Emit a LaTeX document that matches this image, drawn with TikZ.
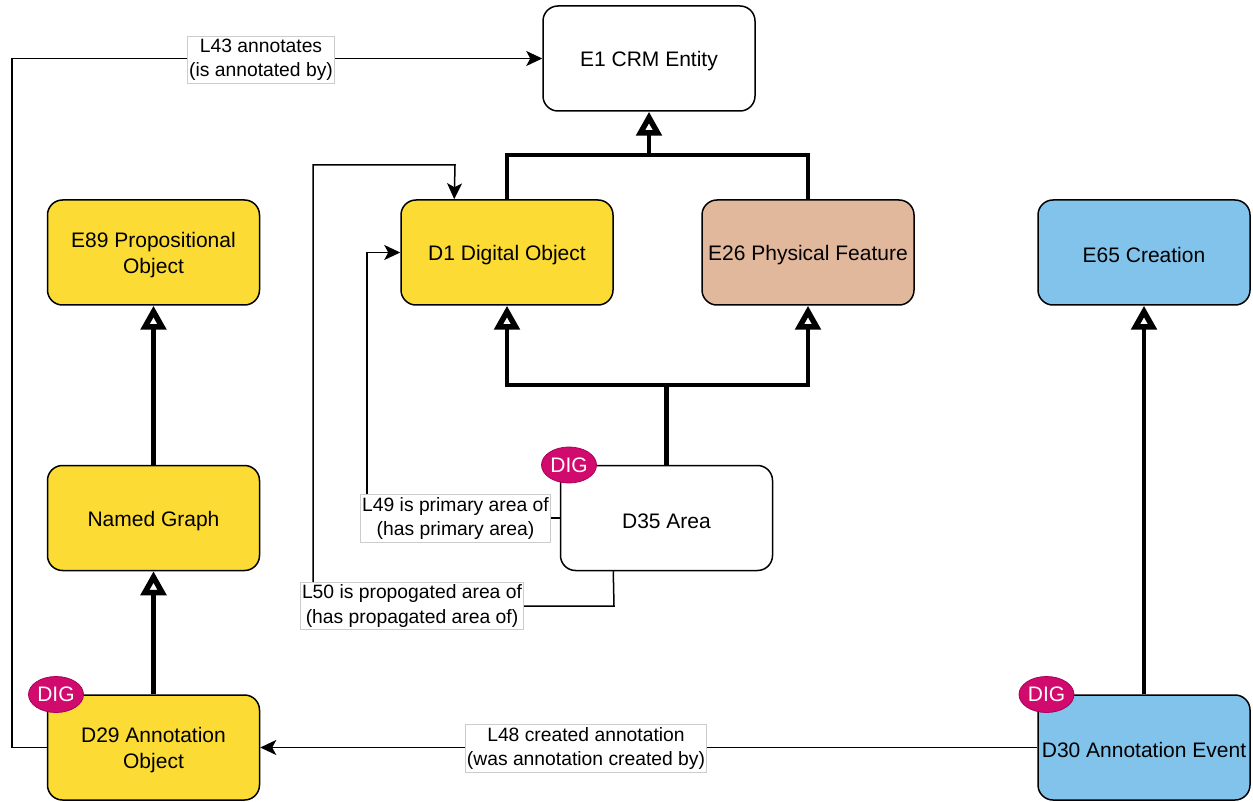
\documentclass[tikz,border=0pt]{standalone}
\usepackage{fontspec}
\setmainfont{Liberation Sans}
\usetikzlibrary{arrows.meta,shapes.geometric,calc}
\definecolor{cyel}{HTML}{FCDC34}
\definecolor{ctan}{HTML}{E1B89B}
\definecolor{cblue}{HTML}{81C3EB}
\definecolor{cdig}{HTML}{D10A6E}
\definecolor{cdigb}{HTML}{A8005A}
\newcommand{\toppad}{\rule{0pt}{21pt}}
\tikzset{
  box/.style={draw=black, line width=1.5pt, rounded corners=15pt, minimum width=212pt, minimum height=105pt, inner sep=2pt, align=center, font=\fontsize{21}{26}\selectfont},
  lbl/.style={fill=white, draw=black!20, line width=0.6pt, inner xsep=1.5pt, inner ysep=2.5pt, align=center, font=\fontsize{19.3}{24.5}\selectfont},
  dig/.style={ellipse, fill=cdig, draw=cdigb, line width=0.8pt, minimum width=55pt, minimum height=36pt, inner sep=0pt, text=white, font=\fontsize{21}{21}\selectfont},
  inhline/.style={line width=4.2pt},
  inh/.style={line width=4.2pt, -{Triangle[length=24pt,width=25pt,line width=5.5pt,fill=white]}},
  rel/.style={line width=1.5pt, -{Stealth[length=16pt,width=15pt,inset=4pt]}},
}
\begin{document}
\begin{tikzpicture}[x=1pt,y=-1pt]
\useasboundingbox (0,0) rectangle (1253,802);
% boxes
\node[box, fill=white] (E1) at (649,58.5) {\toppad E1 CRM Entity};
\node[box, fill=cyel] (E89) at (153.5,252.5) {\toppad E89 Propositional\\Object};
\node[box, fill=cyel] (D1) at (507,252.5) {\toppad D1 Digital Object};
\node[box, fill=ctan] (E26) at (808,252.5) {\toppad E26 Physical Feature};
\node[box, fill=cblue] (E65) at (1144,252.5) {\toppad E65 Creation};
\node[box, fill=cyel] (NG) at (153.5,518) {\toppad Named Graph};
\node[box, fill=white] (D35) at (666.5,518) {\toppad D35 Area};
\node[box, fill=cyel] (D29) at (153.5,747.5) {\toppad D29 Annotation\\Object};
\node[box, fill=cblue] (D30) at (1144,747.5) {\toppad D30 Annotation Event};
% inheritance
\coordinate (j1) at (649,155);
\draw[inhline] (D1.north) |- (j1) -| (E26.north);
\draw[inh] (j1) -- (E1.south);
\coordinate (j2) at (666.5,385);
\draw[inhline] (D35.north) -- (j2);
\draw[inh] (j2) -| (D1.south);
\draw[inh] (j2) -| (E26.south);
\draw[inh] (NG.north) -- (E89.south);
\draw[inh] (D29.north) -- (NG.south);
\draw[inh] (D30.north) -- (E65.south);
% relations
\coordinate (c43) at (12,747.5);
\draw[rel] (D29.west) -- (c43) |- (E1.west);
\draw[rel] (D30.west) -- (D29.east);
\coordinate (c49) at (367,518);
\draw[rel] (D35.west) -- (c49) |- (D1.west);
\coordinate (s50) at ($(D35.south west)+(53.5,0)$);
\coordinate (e50) at ($(D1.north west)+(54,0)$);
\coordinate (c50a) at (614,606);
\coordinate (c50b) at (313,606);
\coordinate (c50c) at (313,165);
\coordinate (c50d) at (455,165);
\draw[rel] (s50) -- (c50a) -- (c50b) -- (c50c) -- (c50d) -- (e50);
% labels
\node[lbl] (l43) at (261,60) {L43 annotates\\(is annotated by)};
\node[lbl] (l48) at (586,748.5) {L48 created annotation\\(was annotation created by)};
\node[lbl] (l49) at (455.5,518.5) {L49 is primary area of\\(has primary area)};
\node[lbl] (l50) at (412,606) {L50 is propogated area of\\(has propagated area of)};
% DIG badges
\node[dig] (g1) at (569,465) {DIG};
\node[dig] (g2) at (56,694.5) {DIG};
\node[dig] (g3) at (1046.5,694.5) {DIG};
\end{tikzpicture}
\end{document}
